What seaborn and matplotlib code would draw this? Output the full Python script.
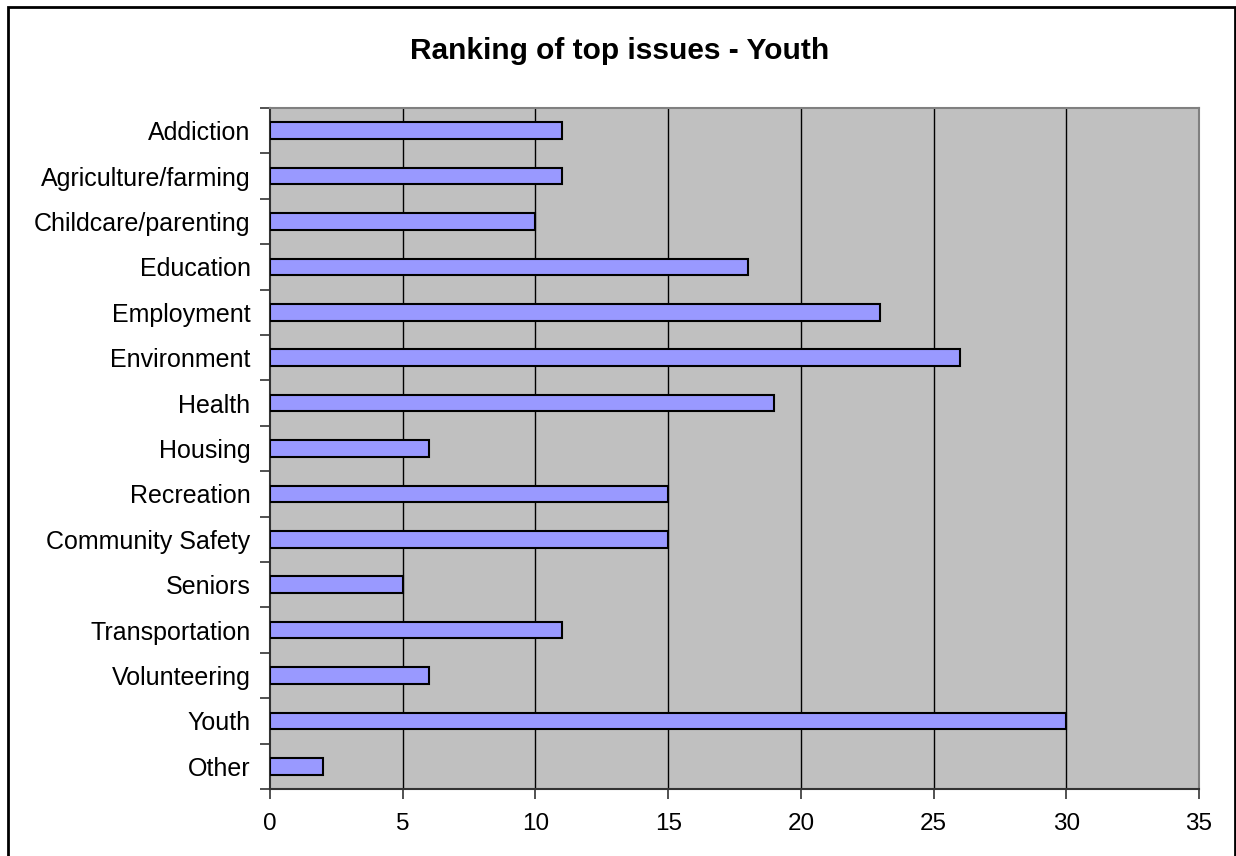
import matplotlib
matplotlib.use("Agg")
import matplotlib.pyplot as plt
from matplotlib.patches import Rectangle
import seaborn as sns
import pandas as pd
import numpy as np

categories = [
    "Addiction", "Agriculture/farming", "Childcare/parenting", "Education",
    "Employment", "Environment", "Health", "Housing", "Recreation",
    "Community Safety", "Seniors", "Transportation", "Volunteering",
    "Youth", "Other",
]
counts = [11, 11, 10, 18, 23, 26, 19, 6, 15, 15, 5, 11, 6, 30, 2]
x_ticks = [0, 5, 10, 15, 20, 25, 30, 35]
title = "Ranking of top issues - Youth"

df = pd.DataFrame({"issue": categories, "count": counts})

sns.set_theme(style="white")
plt.rcParams["font.family"] = ["Liberation Sans", "DejaVu Sans"]
plt.rcParams["text.color"] = "black"
plt.rcParams["xtick.labelcolor"] = "black"
plt.rcParams["ytick.labelcolor"] = "black"

fig = plt.figure(figsize=(12.36, 8.56), dpi=100)
ax = fig.add_axes([270 / 1236, 1 - 789 / 856, 929 / 1236, 681 / 856])
ax.set_facecolor("#C0C0C0")

sns.barplot(data=df, x="count", y="issue", orient="h", order=categories,
            color="#9999FF", saturation=1, width=0.37,
            edgecolor="black", linewidth=1.5, ax=ax, zorder=3)

ax.set_xlim(0, 35)
ax.set_ylim(len(categories) - 0.5, -0.5)
ax.set_xticks(x_ticks)
ax.set_xticklabels([str(t) for t in x_ticks], fontsize=17.5)
for t in x_ticks[1:-1]:
    ax.axvline(t, color="black", linewidth=1.0, zorder=1)

ax.set_yticks(range(len(categories)))
ax.set_yticklabels(categories, fontsize=18)
ax.tick_params(axis="y", which="major", length=0, pad=14)
ax.set_yticks(np.arange(-0.5, len(categories), 1), minor=True)
ax.tick_params(axis="y", which="minor", direction="out", length=7,
               width=1.2, color="#333333", left=True)
ax.tick_params(axis="x", which="major", direction="out", length=7,
               width=1.2, color="#333333", bottom=True, pad=10)
ax.set_xlabel("")
ax.set_ylabel("")

for side in ["left", "bottom"]:
    ax.spines[side].set_color("#333333")
    ax.spines[side].set_linewidth(1.5)
for side in ["top", "right"]:
    ax.spines[side].set_color("#808080")
    ax.spines[side].set_linewidth(1.5)
    ax.spines[side].set_visible(True)

fig.text(0.5017, 1 - 51 / 856, title, ha="center", va="center",
         fontsize=21.5, fontweight="bold", color="black")

fig.patches.append(Rectangle((8 / 1236, -0.01), 1227 / 1236, 1.01 - 7 / 856,
                             transform=fig.transFigure, fill=False,
                             edgecolor="black", linewidth=2.0))

fig.savefig("out.png", dpi=100)
